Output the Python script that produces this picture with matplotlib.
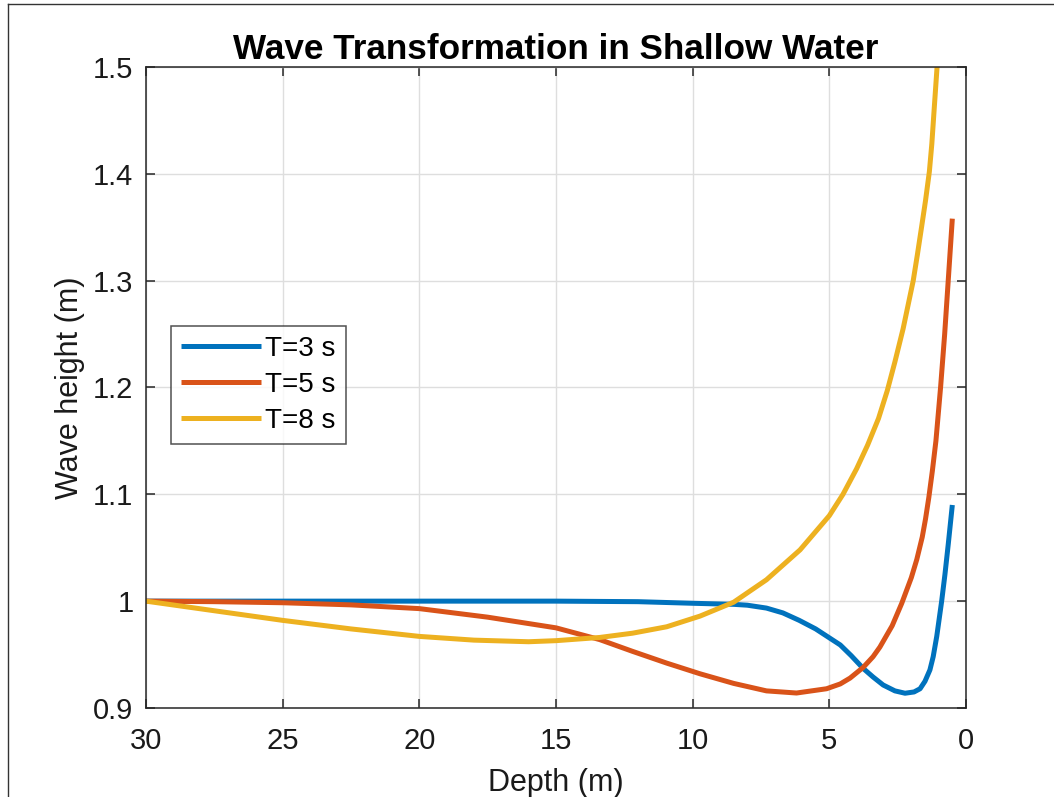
import matplotlib
matplotlib.use("Agg")
import matplotlib.pyplot as plt
from matplotlib.lines import Line2D
from matplotlib.ticker import FormatStrFormatter

plt.rcParams['font.family'] = ['Liberation Sans', 'DejaVu Sans']

# values (depth in m, wave height in m)
depth_t3 = [30, 25, 20, 15, 12, 10, 8.5, 8.0, 7.3, 6.7, 6.1, 5.5, 4.9, 4.6, 4.2, 3.76,
            3.4, 3.03, 2.6, 2.23, 1.9, 1.68, 1.5, 1.32, 1.2, 1.07, 0.89, 0.77, 0.65, 0.5]
height_t3 = [1.000, 1.000, 1.000, 1.000, 0.9995, 0.998, 0.997, 0.9962, 0.9935, 0.989,
             0.982, 0.974, 0.964, 0.959, 0.949, 0.937, 0.929, 0.9215, 0.916, 0.9138,
             0.915, 0.918, 0.925, 0.9356, 0.948, 0.967, 1.000, 1.025, 1.053, 1.09]

depth_t5 = [30, 27.5, 25, 22.5, 20, 17.5, 15, 13.4, 12.2, 10.95, 9.73, 8.5, 7.3, 6.2,
            5.1, 4.6, 4.24, 3.76, 3.4, 3.15, 2.7, 2.35, 2.0, 1.8, 1.6, 1.48, 1.36,
            1.23, 1.1, 0.93, 0.78, 0.65, 0.5]
height_t5 = [1.000, 0.9995, 0.9985, 0.9965, 0.993, 0.985, 0.975, 0.964, 0.953, 0.942,
             0.932, 0.923, 0.916, 0.914, 0.918, 0.9225, 0.928, 0.938, 0.948, 0.957,
             0.977, 0.998, 1.022, 1.039, 1.060, 1.077, 1.097, 1.122, 1.150, 1.2, 1.25,
             1.30, 1.358]

depth_t8 = [30, 27.5, 25, 22.5, 20, 18, 16, 15, 13.4, 12.2, 10.95, 9.73, 8.5, 7.3,
            6.07, 5.0, 4.5, 4.0, 3.6, 3.2, 2.88, 2.6, 2.3, 1.93, 1.78, 1.62, 1.48,
            1.34, 1.25, 1.16, 1.05]
height_t8 = [1.000, 0.991, 0.982, 0.974, 0.967, 0.9635, 0.962, 0.963, 0.966, 0.970,
             0.976, 0.986, 0.999, 1.02, 1.048, 1.080, 1.100, 1.124, 1.146, 1.171, 1.197,
             1.224, 1.255, 1.3, 1.324, 1.351, 1.375, 1.402, 1.428, 1.462, 1.503]

labels = ['T=3 s', 'T=5 s', 'T=8 s']
colors = ['#0072BD', '#D95319', '#EDB120']

fig = plt.figure(figsize=(10.54, 7.97), dpi=100)
ax = fig.add_axes([0.1385, 0.1117, 0.778, 0.8043])

series = [(depth_t3, height_t3), (depth_t5, height_t5), (depth_t8, height_t8)]
for (d, h), lab, c in zip(series, labels, colors):
    ax.plot(d, h, color=c, lw=3.6, label=lab, solid_capstyle='butt',
            solid_joinstyle='round')

ax.set_xlim(30, 0)
ax.set_ylim(0.9, 1.5)
ax.set_xticks([30, 25, 20, 15, 10, 5, 0])
ax.set_yticks([0.9, 1.0, 1.1, 1.2, 1.3, 1.4, 1.5])
ax.yaxis.set_major_formatter(FormatStrFormatter('%g'))
ax.grid(True, color='#dedede', lw=1.0)
ax.set_axisbelow(True)

for s in ax.spines.values():
    s.set_color('#262626')
    s.set_linewidth(1.1)
ax.tick_params(direction='in', length=6.5, width=1.1, color='#262626',
               labelsize=21, top=True, right=True, labelcolor='#1a1a1a')
ax.tick_params(axis='y', pad=9)
ax.tick_params(axis='x', pad=14)

ax.set_xlabel('Depth (m)', fontsize=22, color='#1a1a1a', labelpad=9)
ax.set_ylabel('Wave height (m)', fontsize=22, color='#1a1a1a', labelpad=6)
ax.set_title('Wave Transformation in Shallow Water', fontsize=25.3, fontweight='bold', pad=6)

leg = ax.legend(loc='upper left', bbox_to_anchor=(0.0305, 0.596), fontsize=20,
                frameon=True, fancybox=False, edgecolor='#262626', handlelength=2.9,
                borderpad=0.35, labelspacing=0.37, handletextpad=0.15, borderaxespad=0)
leg.get_frame().set_linewidth(1.1)

# thin figure border (only left and top visible in the crop)
fig.add_artist(Line2D([8 / 1054, 8 / 1054], [0, 1 - 4 / 797], color='#333333', lw=1.0))
fig.add_artist(Line2D([8 / 1054, 1], [1 - 4 / 797, 1 - 4 / 797], color='#333333', lw=1.0))

fig.savefig('out.png', dpi=100)
